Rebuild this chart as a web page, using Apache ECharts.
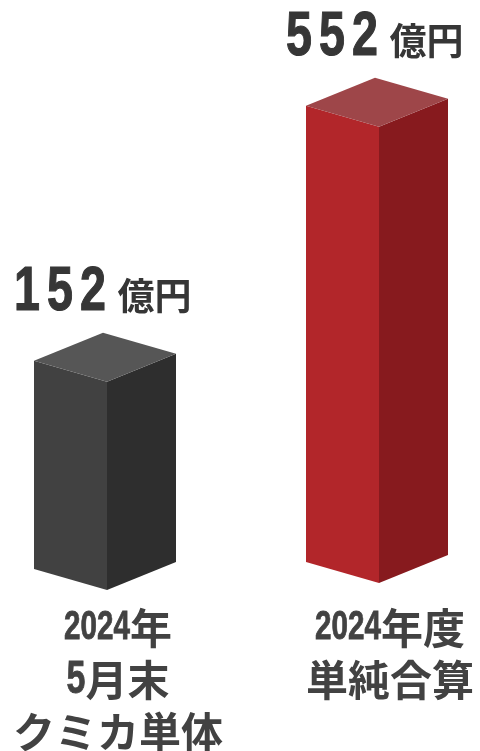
<!DOCTYPE html>
<html>
<head>
<meta charset="utf-8">
<script src="https://cdn.jsdelivr.net/npm/echarts@6/dist/echarts.min.js"></script>
<style>
  html, body { margin: 0; padding: 0; background: #ffffff; }
  #chart { width: 480px; height: 751px; }
</style>
</head>
<body>
<div id="chart"></div>
<script>
// Categories and values
const categories = ['2024年\n5月末\nクミカ単体', '2024年度\n単純合算'];
const values = [152, 552];
const valueUnit = '億円';

// Value axis range (bars rise from the axis minimum)
const Y_MIN = -184;
const Y_MAX = 600;

// Prism face colours per bar
const faceColors = [
  { left: '#414141', right: '#2e2e2e', top: '#565656' },
  { left: '#b2262a', right: '#871a1e', top: '#9e4649' }
];
// Small vertical lift per prism, px
const prismLift = [0, 7];
// Prism geometry relative to the front-top vertex, px
const FRONT_SHIFT = -11;
const LEFT_OFF = [-73, -21];
const RIGHT_OFF = [69, -28];
const BACK_OFF = [-4, -49];

const DIGIT_FAMILY = '"Liberation Sans", Arial, sans-serif';
const CJK_FAMILY = '"Noto Sans CJK JP", sans-serif';
const DIGIT_SCALE = 0.74;   // horizontal squeeze for condensed numerals
const VALUE_COLOR = '#363636';
const CAT_COLOR = '#424242';

const measureCtx = document.createElement('canvas').getContext('2d');
function textWidth(text, font) {
  measureCtx.font = font;
  return measureCtx.measureText(text).width;
}

// One line of mixed text (condensed digits + CJK), centred on cx, middle at cy
function pushLine(children, line, cx, cy, digitSize, cjkSize, color) {
  const parts = line.match(/\d+|\D+/g) || [];
  const segs = parts.map((p) => {
    const isNum = /\d/.test(p);
    const font = isNum ? 'bold ' + digitSize + 'px ' + DIGIT_FAMILY : 'bold ' + cjkSize + 'px ' + CJK_FAMILY;
    const sx = isNum ? DIGIT_SCALE : 1;
    return { text: p, font, sx, isNum, w: textWidth(p, font) * sx };
  });
  const total = segs.reduce((a, s) => a + s.w, 0);
  let x = cx - total / 2;
  segs.forEach((s) => {
    children.push({
      type: 'text', x: x, y: cy, scaleX: s.sx,
      style: {
        text: s.text, x: 0, y: 0, font: s.font, fill: color, align: 'left', verticalAlign: 'middle',
        stroke: s.isNum ? color : null, lineWidth: s.isNum ? 0.8 : 0
      }
    });
    x += s.w;
  });
}

function renderPrism(params, api) {
  const i = params.dataIndex;
  const val = api.value(1);
  const topPt = api.coord([api.value(0), val]);
  const basePt = api.coord([api.value(0), Y_MIN]);
  const fx = topPt[0] + FRONT_SHIFT;
  const fy = topPt[1] - prismLift[i];
  const by = basePt[1] - prismLift[i];
  const c = faceColors[i];
  const at = (o, y) => [fx + o[0], y + o[1]];

  const children = [
    { type: 'polygon', shape: { points: [[fx, fy], at(LEFT_OFF, fy), at(LEFT_OFF, by), [fx, by]] }, style: { fill: c.left } },
    { type: 'polygon', shape: { points: [[fx, fy], at(RIGHT_OFF, fy), at(RIGHT_OFF, by), [fx, by]] }, style: { fill: c.right } },
    { type: 'polygon', shape: { points: [[fx, fy], at(LEFT_OFF, fy), at(BACK_OFF, fy), at(RIGHT_OFF, fy)] }, style: { fill: c.top } }
  ];

  // Value label above the prism: spaced condensed digits + unit
  const apexX = fx + BACK_OFF[0];
  const apexY = fy + BACK_OFF[1];
  const digits = String(val).split('');
  const pitch = 33, gap = 8, unitW = 74;
  const total = digits.length * pitch + gap + unitW;
  const x0 = apexX - 2 - total / 2;
  const digitFont = 'bold 63px ' + DIGIT_FAMILY;
  digits.forEach((d, k) => {
    children.push({
      type: 'text',
      x: x0 + pitch * k + pitch / 2,
      y: apexY - 40,
      scaleX: DIGIT_SCALE,
      style: {
        text: d, x: 0, y: 0, font: digitFont, fill: VALUE_COLOR,
        stroke: VALUE_COLOR, lineWidth: 1.2,
        align: 'center', verticalAlign: 'middle'
      }
    });
  });
  children.push({
    type: 'text',
    style: {
      text: valueUnit,
      x: x0 + digits.length * pitch + gap,
      y: apexY - 37,
      font: 'bold 37px ' + CJK_FAMILY,
      fill: VALUE_COLOR,
      align: 'left',
      verticalAlign: 'middle'
    }
  });

  // Category label under the prism, centred on the category position
  const lines = categories[i].split('\n');
  lines.forEach((line, li) => {
    pushLine(children, line, topPt[0], basePt[1] + 38 + 52 * li, li === 0 ? 40 : 46, 42, CAT_COLOR);
  });

  return { type: 'group', children };
}

const chart = echarts.init(document.getElementById('chart'), null, { renderer: 'canvas' });
chart.setOption({
  backgroundColor: '#ffffff',
  animation: false,
  grid: { left: 118, right: 90, top: 104, bottom: 161 },
  xAxis: {
    type: 'category',
    data: categories,
    boundaryGap: false,
    axisLine: { show: false },
    axisTick: { show: false },
    axisLabel: { show: false },
    splitLine: { show: false }
  },
  yAxis: {
    type: 'value',
    min: Y_MIN,
    max: Y_MAX,
    show: false,
    splitLine: { show: false }
  },
  series: [{
    type: 'custom',
    renderItem: renderPrism,
    data: values.map((v, i) => [i, v]),
    clip: false
  }]
});
</script>
</body>
</html>
